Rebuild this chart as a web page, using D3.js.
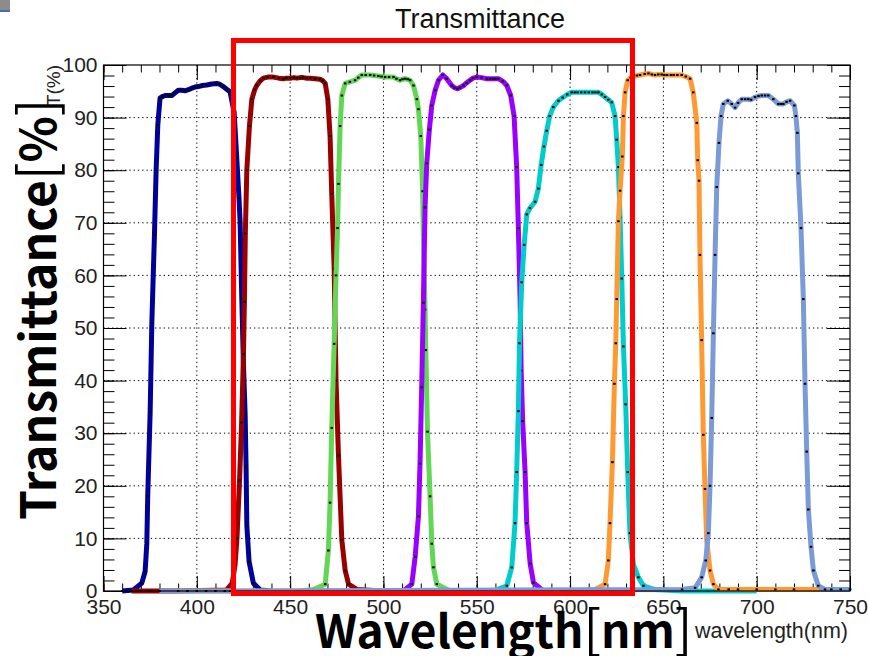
<!DOCTYPE html>
<html>
<head>
<meta charset="utf-8">
<script src="https://cdn.jsdelivr.net/npm/d3@7"></script>
<style>
  body { margin: 0; background: #fff; }
  .tick text { font-family: "Liberation Sans", Arial, sans-serif; fill: #222; }
</style>
</head>
<body>
<div id="scene"></div>
<script>
// transmittance curves: [wavelength nm, T %]
const navyCurve = [[360,0],[366,0.2],[370.5,1.5],[372.3,3.7],[373.2,9],[373.7,18],[375,34],[375.9,51],[377.3,67.7],[378.2,80],[379.1,88.6],[380.3,93.7],[381.5,94],[383,94.2],[385,94.2],[386.6,94.2],[388,94.6],[390.1,95.2],[392,95.2],[393.7,95.1],[395.5,95.3],[397.3,95.6],[399,95.8],[400.8,95.9],[403,96.1],[405.3,96.2],[408,96.4],[410.7,96.5],[412.5,96.3],[414.2,95.9],[416,95.4],[417.8,94.9],[420,91],[421.4,82.3],[422.6,74.7],[423.2,70.2],[424.1,55.6],[425,43],[425.9,33.5],[426.4,23.6],[426.8,12.5],[428,5.6],[430.3,1.5],[434,0.2],[440,0]];
const darkRedCurve = [[365,0],[370,0],[375,0],[380,0],[385,0],[388,0],[416,0.2],[419,1.5],[420.5,5],[421.5,10],[422.9,21],[424,32],[425,45],[425.5,55],[426,68],[426.8,80],[428.2,88.4],[429.5,93.5],[431,95.3],[432.1,96.1],[434,97],[435.7,97.5],[438,97.7],[441,97.7],[444,97.5],[446.4,97.4],[448,97.5],[450,97.5],[452,97.6],[453.6,97.5],[455.5,97.6],[457,97.6],[459,97.5],[460.7,97.5],[463.5,97.4],[466,97.3],[467.5,97],[468.8,96.5],[470.2,93.5],[471.4,86.5],[472.3,75.5],[473.6,61.3],[474.6,40],[475.9,25.8],[477.7,9.7],[479.5,3.9],[481.3,1.3],[485.7,0.3],[500,0]];
const greenCurve = [[455,0],[462.5,0.3],[468.8,1.3],[470.5,7.7],[471.4,16.8],[472.3,31],[473.6,47],[474.6,60],[475.4,69],[475.9,77.4],[476.8,88.4],[477.7,94.2],[479.5,96.5],[482,96.8],[484.8,97.1],[486.5,97.6],[488.4,98.1],[490.5,98.1],[492.9,98.1],[495,98],[497.3,97.9],[499,97.8],[500.9,97.7],[503,97.7],[505.4,97.7],[507,97.4],[508.9,97.1],[510.2,97.3],[511.6,97.4],[513,97.3],[514.3,97.1],[516.1,96.1],[517.9,93.5],[518.75,91.6],[520,86.5],[521,76],[521.4,67.7],[522.3,53.5],[522.7,45.8],[523.6,30.3],[525,18],[525.9,9],[526.8,4.5],[528.6,1.3],[535.7,0],[545,0]];
const purpleCurve = [[505,0],[510.7,0],[515.2,1.3],[517,6.5],[518.75,14.2],[519.6,24.2],[520.5,38.7],[521.4,54.8],[522.3,72.9],[523.2,81.3],[524.6,87.7],[525.9,92.3],[527.7,95.2],[529.5,97.1],[531.8,98.1],[533.9,97.4],[536.6,96.1],[538,95.7],[539.6,95.5],[541,95.7],[542.9,96.1],[544.5,96.6],[546.4,97.1],[548,97.5],[550,97.7],[552.5,97.6],[555.4,97.4],[557,97.4],[558.5,97.4],[560,97.4],[561.6,97.4],[564,96.9],[566.1,96.1],[568.2,94.2],[570,90.3],[571.4,80.6],[572.3,69],[573.2,56.1],[573.8,41.9],[574.6,32.3],[575.9,22.6],[576.8,12.9],[578.6,5.2],[580.4,1.6],[585.7,0],[595,0]];
const cyanCurve = [[550,0],[558.9,0],[566.1,1],[568.75,4.5],[570.5,12.9],[571.4,22.6],[572.3,34.2],[572.9,47.1],[574.1,58.7],[575.4,65.8],[576.8,71.6],[578.5,72.8],[581.25,74],[583,76.5],[584.5,81],[586,84.5],[587.5,87.5],[589.1,90.3],[591,92],[593.75,93.2],[596,93.8],[598.5,94.4],[600.9,94.8],[602.5,94.8],[604,94.8],[606,94.8],[608,94.8],[610,94.8],[612,94.8],[613.6,94.8],[615.2,94.8],[617,94.4],[618.75,93.9],[620.5,93.4],[622.3,92.9],[624.1,90.3],[625,85.8],[625.9,80.6],[626.8,71],[627.7,59.4],[628.6,46.5],[629.8,35.5],[630.9,22.6],[632.1,11],[634,5],[636.6,2.6],[639.3,1],[645,0.3],[660,0],[680,0],[700,0]];
const orangeCurve = [[390,0],[600,0],[613.4,0.3],[618.75,1.3],[620.5,5.8],[621.4,12.9],[622.7,24.5],[623.75,39.4],[624.5,47.1],[625,55.5],[625.9,70.3],[626.8,76.1],[628,82.6],[628.6,90.3],[629.5,94.8],[630.9,97.1],[632.5,97.6],[634,97.8],[635.8,98],[637.5,98.1],[640,98.3],[642,98.4],[643.8,98.2],[645.5,98.1],[647.3,98.2],[649.1,98.2],[650.5,98.1],[652,98.1],[654,98.1],[655.5,98.1],[657.5,98.1],[659.8,98.1],[662,97.8],[664.3,97.4],[666,94.8],[667.9,89],[668.4,81.9],[669.1,78],[669.6,63.9],[670.5,47.7],[671.4,29.7],[672.3,19.4],[673.2,9.7],[675,3.9],[676.8,1.3],[679.5,0.3],[685,0.3],[690,0.3],[700,0.3],[710,0.3],[720,0.3],[735,0.3],[750,0.3]];
const lightBlueCurve = [[380,0],[390,0],[395,0],[400,0],[405,0],[410,0],[415,0],[418,0],[660,0.3],[667,0.6],[670.5,2.6],[672.7,5.8],[674.1,11],[675,20],[675.9,32.9],[676.8,49],[677.7,63.9],[678.6,76.8],[679.8,85.2],[680.9,90.3],[682.1,92.6],[684.5,93.2],[686.6,92.6],[688.4,91.9],[690,92.8],[692,93.5],[693.8,93.5],[695.5,93.5],[697,93.4],[699.1,93.9],[701,94.1],[702.7,94.2],[704.5,94.2],[706.25,94.2],[708.9,93.5],[711.6,92.6],[713,92.6],[714.3,92.6],[716,93],[717.9,93.2],[720.2,92.3],[721,90.3],[721.8,87.1],[722.3,79.4],[723.75,69],[725,55.5],[725.9,39.4],[726.8,26.5],[727.7,15.5],[729.1,8.4],[730.4,3.9],[733,1],[736.6,0.3],[740,0.3],[745,0.3],[750,0.3]];

const curves = [navyCurve, darkRedCurve, greenCurve, purpleCurve, cyanCurve, orangeCurve, lightBlueCurve];
const curveColors = ["#00009a", "#990000", "#62d655", "#9a00ff", "#00cccc", "#ff9a33", "#7a9bd8"];

const xMajorTicks = [350, 400, 450, 500, 550, 600, 650, 700, 750];
const yMajorTicks = [0, 10, 20, 30, 40, 50, 60, 70, 80, 90, 100];
const xMinorTicks = d3.range(350, 751, 10);
const yMinorTicks = d3.range(0, 101, 2);

const svg = d3.select("#scene").append("svg")
  .attr("width", 869)
  .attr("height", 656);

const x = d3.scaleLinear().domain([350, 750]).range([103.5, 850]);
const y = d3.scaleLinear().domain([0, 100]).range([591, 65]);

// little window corner at top-left
svg.append("rect").attr("x", 0).attr("y", 0).attr("width", 10).attr("height", 11).style("fill", "#8c8c8c");
svg.append("rect").attr("x", 0).attr("y", 10).attr("width", 10).attr("height", 2).style("fill", "#4a6ea8");

// grid
svg.append("g").selectAll("line")
  .data(xMajorTicks.slice(1, -1))
  .enter().append("line")
  .attr("x1", d => x(d)).attr("x2", d => x(d))
  .attr("y1", y(0)).attr("y2", y(100))
  .style("stroke", "#000").style("stroke-width", 1).style("stroke-dasharray", "1.3,3");

svg.append("g").selectAll("line")
  .data(yMajorTicks.slice(1, -1))
  .enter().append("line")
  .attr("x1", x(350)).attr("x2", x(750))
  .attr("y1", d => y(d)).attr("y2", d => y(d))
  .style("stroke", "#000").style("stroke-width", 1).style("stroke-dasharray", "1.3,3");

// axes, ticks pointing inward
svg.append("g")
  .attr("transform", `translate(0,${y(0)})`)
  .call(d3.axisBottom(x).tickValues(xMajorTicks).tickSize(-15).tickPadding(8).tickFormat(d3.format("d")))
  .call(g => g.selectAll("text").style("font-size", "21px"));
svg.append("g")
  .attr("transform", `translate(0,${y(0)})`)
  .call(d3.axisBottom(x).tickValues(xMinorTicks).tickSize(-7.5).tickFormat(""));
svg.append("g")
  .attr("transform", `translate(0,${y(100)})`)
  .call(d3.axisTop(x).tickValues(xMajorTicks).tickSize(-15).tickFormat(""));
svg.append("g")
  .attr("transform", `translate(0,${y(100)})`)
  .call(d3.axisTop(x).tickValues(xMinorTicks).tickSize(-7.5).tickFormat(""));

svg.append("g")
  .attr("transform", `translate(${x(350)},0)`)
  .call(d3.axisLeft(y).tickValues(yMajorTicks).tickSize(-23).tickPadding(6))
  .call(g => g.selectAll("text").style("font-size", "21px"));
svg.append("g")
  .attr("transform", `translate(${x(350)},0)`)
  .call(d3.axisLeft(y).tickValues(yMinorTicks).tickSize(-11).tickFormat(""));
svg.append("g")
  .attr("transform", `translate(${x(750)},0)`)
  .call(d3.axisRight(y).tickValues(yMajorTicks).tickSize(-23).tickFormat(""));
svg.append("g")
  .attr("transform", `translate(${x(750)},0)`)
  .call(d3.axisRight(y).tickValues(yMinorTicks).tickSize(-11).tickFormat(""));

svg.selectAll(".domain").remove();
svg.selectAll(".tick line").style("stroke", "#000");

// curves with black point markers
const valueline = d3.line()
  .x(d => x(d[0]))
  .y(d => y(d[1]));

curves.forEach((c, i) => {
  svg.append("path")
    .data([c])
    .attr("d", valueline)
    .style("fill", "none")
    .style("stroke", curveColors[i])
    .style("stroke-width", 5)
    .style("stroke-linejoin", "round");

  svg.append("g").selectAll("rect")
    .data(c)
    .enter().append("rect")
    .attr("x", d => x(d[0]) - 1.25)
    .attr("y", d => y(d[1]) - 1)
    .attr("width", 2.5)
    .attr("height", 2)
    .style("fill", "#000");
});

// frame
svg.append("rect")
  .attr("x", x(350)).attr("y", y(100))
  .attr("width", x(750) - x(350)).attr("height", y(0) - y(100))
  .style("fill", "none").style("stroke", "#000").style("stroke-width", 1.2);

// highlight box
svg.append("rect")
  .attr("x", 233.5).attr("y", 40.5)
  .attr("width", 399).attr("height", 553)
  .style("fill", "none").style("stroke", "#ff0000").style("stroke-width", 5);

// titles
svg.append("text")
  .attr("x", 480).attr("y", 28)
  .style("text-anchor", "middle")
  .style("font-family", "Liberation Sans, Arial, sans-serif")
  .style("font-size", "27px")
  .style("fill", "#111")
  .text("Transmittance");

svg.append("text")
  .attr("x", 848).attr("y", 638)
  .style("text-anchor", "end")
  .style("font-family", "Liberation Sans, Arial, sans-serif")
  .style("font-size", "21.5px")
  .style("fill", "#222")
  .text("wavelength(nm)");

svg.append("text")
  .attr("transform", "translate(60, 65) rotate(-90)")
  .style("text-anchor", "end")
  .style("font-family", "Liberation Sans, Arial, sans-serif")
  .style("font-size", "19px")
  .style("fill", "#222")
  .text("T(%)");

const bigFont = "Noto Sans CJK JP, Noto Sans, sans-serif";

const xTitle = svg.append("text")
  .attr("x", 315).attr("y", 648)
  .style("font-family", bigFont)
  .style("font-size", "46px")
  .style("fill", "#000");
xTitle.append("tspan").style("font-weight", "bold").text("Wavelength");
xTitle.append("tspan").style("font-weight", "normal").style("font-size", "52px").text("[");
xTitle.append("tspan").style("font-weight", "bold").text("nm");
xTitle.append("tspan").style("font-weight", "normal").style("font-size", "52px").text("]");

const yTitle = svg.append("text")
  .attr("transform", "translate(56, 520) rotate(-90)")
  .style("font-family", bigFont)
  .style("font-size", "48px")
  .style("fill", "#000");
yTitle.append("tspan").style("font-weight", "bold").text("Transmittance");
yTitle.append("tspan").style("font-weight", "normal").style("font-size", "52px").text("[");
yTitle.append("tspan").style("font-weight", "bold").text("%");
yTitle.append("tspan").style("font-weight", "normal").style("font-size", "52px").text("]");
</script>
</body>
</html>
